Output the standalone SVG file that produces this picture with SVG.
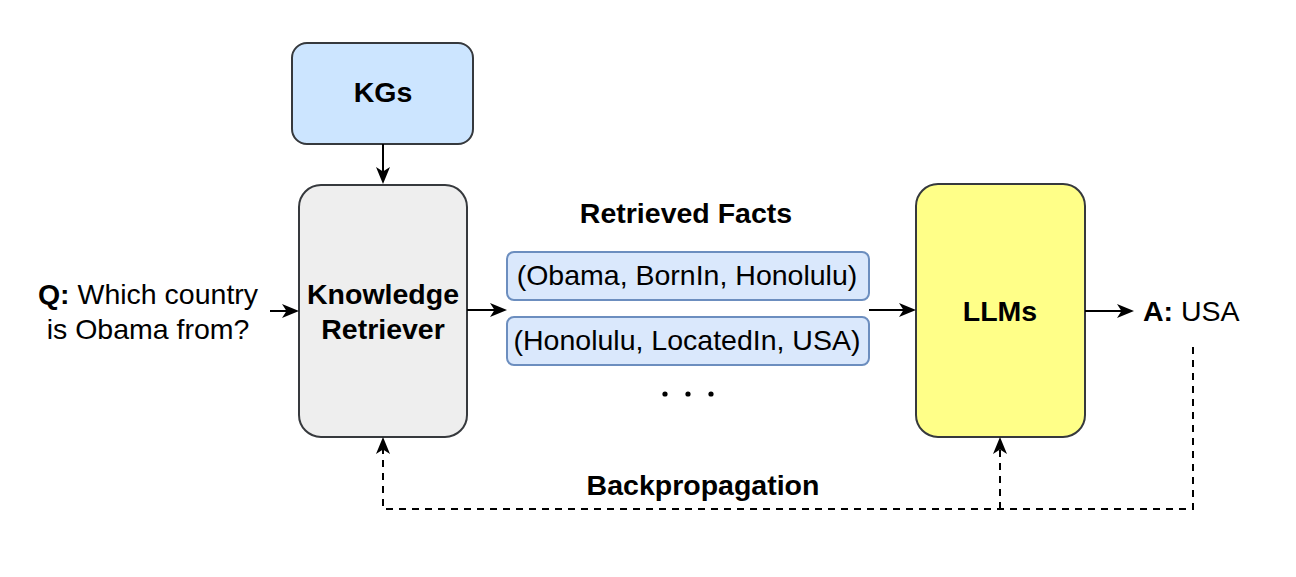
<svg xmlns="http://www.w3.org/2000/svg" width="1296" height="577" viewBox="0 0 1296 577">
<defs>
<path id="ah" d="M0,0 L-17,-7 L-12.5,0 L-17,7 Z"/>
</defs>
<style>
.box{stroke:#36393d;stroke-width:2}
.fact{fill:#dae8fc;stroke:#6c8ebf;stroke-width:2}
text{font-family:"Liberation Sans",Arial,sans-serif;font-size:28.5px;fill:#000}
.b{font-weight:bold}
.c{text-anchor:middle}
.ln{fill:none;stroke:#000;stroke-width:2}
.d{stroke-dasharray:7 6}
.head{fill:#000}
</style>
<rect width="1296" height="577" fill="#fff"/>
<g id="kgs">
<rect class="box" x="292" y="43" width="181" height="101" rx="15" fill="#cce5ff"/>
<text class="b c" x="383" y="102">KGs</text>
</g>
<g id="retriever">
<rect class="box" x="299" y="185" width="168" height="252" rx="22" fill="#eeeeee"/>
<text class="b c" x="383" y="304">Knowledge</text>
<text class="b c" x="383" y="339">Retriever</text>
</g>
<g id="question">
<text class="c" x="148" y="304"><tspan class="b">Q:</tspan> Which country</text>
<text class="c" x="148" y="339">is Obama from?</text>
</g>
<g id="facts">
<text class="b c" x="686" y="223">Retrieved Facts</text>
<rect class="fact" x="507" y="252" width="362" height="48" rx="7"/>
<text class="c" x="687" y="285">(Obama, BornIn, Honolulu)</text>
<rect class="fact" x="507" y="317" width="362" height="48" rx="7"/>
<text class="c" x="687" y="350">(Honolulu, LocatedIn, USA)</text>
<circle cx="665" cy="394" r="2.6"/>
<circle cx="688" cy="394" r="2.6"/>
<circle cx="711" cy="394" r="2.6"/>
</g>
<g id="llms">
<rect class="box" x="916" y="184" width="169" height="253" rx="22" fill="#ffff88"/>
<text class="b c" x="1000" y="321">LLMs</text>
</g>
<g id="answer">
<text x="1143" y="321"><tspan class="b">A:</tspan> USA</text>
</g>
<g id="backprop-label">
<text class="b c" x="703" y="495">Backpropagation</text>
</g>
<g id="connectors">
<line class="ln" x1="383" y1="144" x2="383" y2="174"/>
<use href="#ah" class="head" transform="translate(383,184) rotate(90)"/>
<line class="ln" x1="270" y1="311" x2="288" y2="311"/>
<use href="#ah" class="head" transform="translate(299,311)"/>
<line class="ln" x1="467" y1="310" x2="496" y2="310"/>
<use href="#ah" class="head" transform="translate(507,310)"/>
<line class="ln" x1="869" y1="310" x2="905" y2="310"/>
<use href="#ah" class="head" transform="translate(916,310)"/>
<line class="ln" x1="1085" y1="311" x2="1123" y2="311"/>
<use href="#ah" class="head" transform="translate(1134,311)"/>
<polyline class="ln d" points="1193,347 1193,509 383,509 383,448"/>
<use href="#ah" class="head" transform="translate(383,437) rotate(-90)"/>
<polyline class="ln d" points="1000,509 1000,448"/>
<use href="#ah" class="head" transform="translate(1000,437) rotate(-90)"/>
</g>
</svg>
